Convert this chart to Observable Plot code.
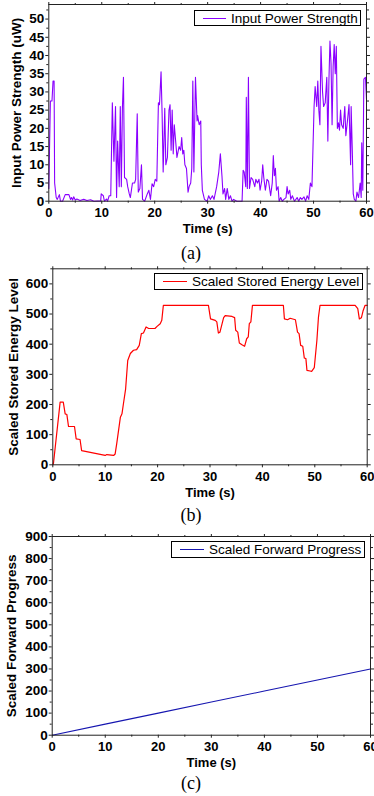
<!DOCTYPE html>
<html><head><meta charset="utf-8">
<script src="https://cdn.jsdelivr.net/npm/d3@7"></script>
<script src="https://cdn.jsdelivr.net/npm/@observablehq/plot@0.6"></script>
<style>
html,body{margin:0;padding:0;background:#fff;overflow:hidden;}
#root{position:relative;width:374px;height:796px;overflow:hidden;}
.panel{position:absolute;left:0;}
.cap{position:absolute;font-family:"Liberation Serif","Times New Roman",serif;font-size:18px;transform:translate(-50%,-50%);white-space:nowrap;}
.legend{position:absolute;border:1px solid #000;background:#fff;font-family:"Liberation Sans",Arial,sans-serif;font-size:13.5px;display:flex;align-items:center;box-sizing:border-box;white-space:nowrap;color:#000;}
.legend .sw{display:inline-block;height:0;border-top:1.5px solid;margin:0 5px 0 8px;}
</style>
</head><body><div id="root"></div>
<script>
// ---- data ----
const xTicks = [0, 10, 20, 30, 40, 50, 60];
const xMinor = [5, 15, 25, 35, 45, 55];

const powerTime = [0,0.3,0.6,0.8,1.0,1.1,1.4,1.6,2.0,2.2,2.6,3.1,3.8,4.1,4.3,4.5,4.7,5.0,5.3,5.9,6.6,7.2,7.9,8.5,9.8,9.9,10.3,10.5,10.9,11.1,11.4,11.7,12.0,12.3,12.6,12.8,13.0,13.3,13.5,13.7,13.9,14.1,14.3,14.7,14.9,15.2,15.4,15.8,16.2,16.4,16.7,16.9,17.2,17.5,17.7,18.1,18.6,18.9,19.2,19.5,19.8,20.1,20.4,20.7,20.9,21.2,21.4,21.6,21.9,22.1,22.4,22.7,22.9,23.1,23.3,23.5,23.7,24.1,24.2,24.6,24.9,25.1,25.3,25.5,25.7,26.0,26.3,26.5,26.8,27.0,27.2,27.4,27.7,28.0,28.1,28.4,28.7,28.8,29.0,29.4,29.9,30.2,30.5,30.9,31.2,31.7,32.1,32.4,32.7,32.9,33.2,33.4,33.7,34.0,34.3,34.6,34.9,35.5,36.5,36.7,36.9,37.2,37.3,37.5,37.7,37.9,38.2,38.5,38.9,39.1,39.4,39.7,39.9,40.2,40.4,40.6,40.9,41.2,41.5,41.9,42.2,42.4,42.6,42.8,43.0,43.3,43.5,43.8,44.1,44.4,44.8,45.0,45.2,45.5,45.7,46.0,46.4,46.9,47.2,47.5,47.8,48.2,48.5,48.8,49.1,49.4,49.7,50.1,50.3,50.6,50.8,51.0,51.2,51.4,51.7,51.9,52.2,52.5,52.7,52.9,53.1,53.3,53.5,53.7,53.9,54.1,54.3,54.5,54.7,54.9,55.1,55.3,55.6,55.9,56.1,56.4,56.7,57.0,57.1,57.3,57.5,57.7,58.0,58.2,58.5,58.8,59.0,59.1,59.3,59.5,59.8,60.0];
const powerValue = [3.5,27.5,27.5,33,33,5,1,0.5,1.8,0,0,1.8,1.8,0.5,1.0,0.3,1.2,0.3,0.6,0.2,0.5,0.2,0.4,0,0.1,2,1.5,0,0.6,0,1.5,1.5,27,11,26,1,16.5,4,26,4,25.5,34,6.5,6,4,2,1,5,5,6,24,2.5,3.5,10,0.5,0,2,3,0.5,4.8,4,6,5.5,27,26.5,35.5,24,8,25.5,10,12,25,26.5,14,25,13,21,14,12,15,14,17.5,13,14,10,9,2.5,4,5,9,33,8,34,22,23.5,21,22,10,3,0.5,0,1.5,0.5,1.5,0.5,4,8,13,7,2,3.5,0.5,3.5,0.5,1.5,0,0.5,0,0,8.5,8,4,28.5,3.5,34,3.5,6.5,6,4,6,5,6,3,5.5,10,6.5,3,6,5.5,1.5,5,12.5,7,9,3,4,0,1,0,0.5,1,4,2,3,0.5,1.5,0,1,0,1,0.5,1.2,0,1.5,0.5,5,4,26,31.5,26,33,25,21,42.5,30,26,27,34,16.5,33,44,38,21,37,43,35,42.5,20,21.5,19.5,25,21,20,26,18,22,26.5,10,26,15,2,0.5,0,2.5,1,5,1,16,3,33.5,34,28];

const energyTime = [0,0.13,1.4,2.0,2.36,2.68,3.0,4.14,4.46,5.2,5.5,10.0,10.3,11.6,11.9,12.2,12.9,13.2,13.5,13.9,14.3,14.8,15.4,16.0,16.5,16.9,17.3,17.8,18.3,19.5,19.9,20.5,20.8,21.1,29.7,30.1,31.0,31.3,31.6,31.9,32.6,32.9,34.2,34.7,34.9,35.3,35.6,36.1,36.6,37.0,37.3,37.5,37.8,38.1,44.0,44.2,44.8,45.3,46.3,46.7,47.0,47.3,47.7,48.0,48.3,48.5,49.1,49.4,49.9,50.4,50.7,51.0,57.7,58.2,58.5,58.9,59.2,59.6,60.0];
const energyValue = [0,5,208,208,169,167,127,127,86,84,47,31,34,31,36,70,158,169,205,252,346,369,380,382,396,435,437,457,452,452,459,468,479,529,529,484,479,474,437,440,488,495,492,488,446,440,404,398,393,418,424,468,474,529,529,484,481,486,481,440,435,396,393,354,352,313,311,310,322,413,490,529,529,518,484,488,510,529,529];

const progressTime = [0, 10, 20, 30, 40, 50, 60];
const progressValue = [0, 50, 100, 150, 200, 250, 300];

const powerTicks = [0,5,10,15,20,25,30,35,40,45,50];
const powerMinor = [2.5,7.5,12.5,17.5,22.5,27.5,32.5,37.5,42.5,47.5,52.5];
const energyTicks = [0,100,200,300,400,500,600];
const energyMinor = [50,150,250,350,450,550,650];
const progressTicks = [0,100,200,300,400,500,600,700,800,900];
const progressMinor = [50,150,250,350,450,550,650,750,850];

const zip = (xs, ys) => xs.map((t, i) => ({t, v: ys[i]}));

function panel(o) {
  const empty = () => "";
  return Plot.plot({
    width: 374, height: o.height,
    marginTop: o.mt, marginBottom: o.mb, marginLeft: o.ml, marginRight: o.mr,
    style: {fontFamily: '"Liberation Sans", Arial, sans-serif', fontSize: "13px", fontWeight: "bold", color: "#000", background: "transparent", overflow: "visible"},
    x: {domain: [0, 60]},
    y: {domain: o.yDomain},
    marks: [
      Plot.line(zip(o.xs, o.ys), {x: "t", y: "v", stroke: o.color, strokeWidth: o.sw}),
      Plot.frame({stroke: "#222", strokeWidth: 1}),
      Plot.axisX({ticks: xTicks, tickSize: 3, tickPadding: 4, stroke: "#222", label: "Time (s)", labelAnchor: "center", labelArrow: "none", labelOffset: 32}),
      Plot.axisX({ticks: xMinor, tickSize: 2, stroke: "#222", tickFormat: empty, label: null}),
      Plot.axisX({anchor: "top", ticks: xTicks, tickSize: 3, stroke: "#222", tickFormat: empty, label: null}),
      Plot.axisX({anchor: "top", ticks: xMinor, tickSize: 2, stroke: "#222", tickFormat: empty, label: null}),
      Plot.axisY({ticks: o.yTicks, tickSize: 3, tickPadding: 1.5, stroke: "#222", label: o.yLabel, labelAnchor: "center", labelArrow: "none", labelOffset: o.lo, fontSize: 13.5}),
      Plot.axisY({ticks: o.yMinor, tickSize: 2, stroke: "#222", tickFormat: empty, label: null}),
      Plot.axisY({anchor: "right", ticks: o.yTicks, tickSize: 3, stroke: "#222", tickFormat: empty, label: null}),
      Plot.axisY({anchor: "right", ticks: o.yMinor, tickSize: 2, stroke: "#222", tickFormat: empty, label: null})
    ]
  });
}

const root = document.getElementById("root");
function place(node, top) {
  node.classList.add("panel");
  node.style.top = top + "px";
  root.appendChild(node);
}
function caption(text, x, y) {
  const d = document.createElement("div");
  d.className = "cap"; d.textContent = text;
  d.style.left = x + "px"; d.style.top = y + "px";
  root.appendChild(d);
}
function legend(text, color, left, top, width, height, swLen) {
  const d = document.createElement("div");
  d.className = "legend";
  d.style.left = left + "px"; d.style.top = top + "px";
  d.style.width = width + "px"; d.style.height = height + "px";
  const s = document.createElement("span");
  s.className = "sw"; s.style.borderTopColor = color; s.style.width = swLen + "px";
  d.appendChild(s);
  d.appendChild(document.createTextNode(text));
  root.appendChild(d);
}

const colA = "#8a00ff", colB = "#ff0000", colC = "#1616b0";

place(panel({xs: powerTime, ys: powerValue, color: colA, sw: 1.1, yDomain: [0, 54], yTicks: powerTicks, yMinor: powerMinor,
  yLabel: "Input Power Strength (uW)", height: 236, mt: 4, mb: 35.3, ml: 48.3, mr: 8, lo: 37.5}), 0);
caption("(a)", 191, 253);
legend("Input Power Strength", colA, 194, 10, 167, 16, 23);

place(panel({xs: energyTime, ys: energyValue, color: colB, sw: 1.2, yDomain: [0, 650], yTicks: energyTicks, yMinor: energyMinor,
  yLabel: "Scaled Stored Energy Level", height: 238, mt: 6.3, mb: 35.7, ml: 52.3, mr: 7.3, lo: 44}), 262);
caption("(b)", 191, 515);
legend("Scaled Stored Energy Level", colB, 154, 273, 209, 17, 24);

place(panel({xs: progressTime, ys: progressValue, color: colC, sw: 1.1, yDomain: [0, 900], yTicks: progressTicks, yMinor: progressMinor,
  yLabel: "Scaled Forward Progress", height: 242, mt: 8, mb: 35.3, ml: 51.7, mr: 4, lo: 45.5}), 528);
caption("(c)", 191, 783);
legend("Scaled Forward Progress", colC, 171, 541, 194, 17, 24);
</script>
</body></html>
